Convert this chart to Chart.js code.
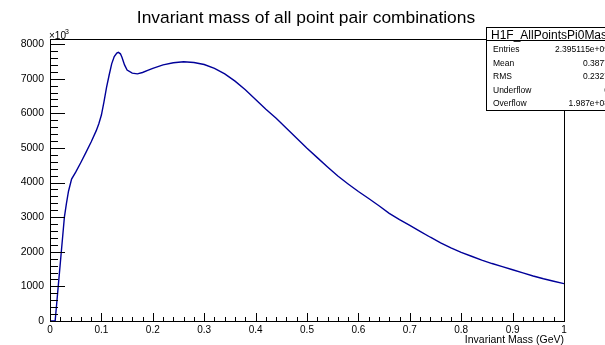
<!DOCTYPE html>
<html>
<head>
<meta charset="utf-8">
<script src="https://cdn.jsdelivr.net/npm/chart.js@4.4.1/dist/chart.umd.min.js"></script>
<style>
  html, body { margin: 0; padding: 0; background: #ffffff; }
</style>
</head>
<body>
<canvas id="c" width="605" height="345"></canvas>
<script>
// Histogram contents (bin centre in GeV, entries in units of 10^3)
const massGeV = [
  0.000, 0.005, 0.010, 0.013, 0.016, 0.019, 0.022, 0.025, 0.028, 0.032,
  0.036, 0.042, 0.050, 0.060, 0.070, 0.080, 0.090, 0.095, 0.100, 0.105,
  0.110, 0.115, 0.120, 0.125, 0.130, 0.133, 0.137, 0.140, 0.145, 0.150,
  0.160, 0.170, 0.180, 0.190, 0.200, 0.220, 0.240, 0.260, 0.280, 0.300,
  0.320, 0.340, 0.360, 0.380, 0.400, 0.420, 0.440, 0.460, 0.480, 0.500,
  0.520, 0.540, 0.560, 0.580, 0.600, 0.620, 0.640, 0.660, 0.680, 0.700,
  0.720, 0.740, 0.760, 0.780, 0.800, 0.820, 0.840, 0.860, 0.880, 0.900,
  0.920, 0.940, 0.960, 0.980, 1.000
];
const countsK = [
  0, 0, 0, 500, 1000, 1500, 2000, 2500, 3000, 3400,
  3750, 4100, 4300, 4580, 4870, 5170, 5500, 5700, 5950, 6330,
  6750, 7100, 7430, 7640, 7740, 7760, 7720, 7620, 7400, 7250,
  7160, 7140, 7180, 7240, 7300, 7400, 7460, 7490, 7470, 7410,
  7300, 7140, 6930, 6680, 6400, 6120, 5860, 5570, 5280, 4990,
  4720, 4450, 4190, 3960, 3740, 3540, 3330, 3110, 2930, 2760,
  2590, 2420, 2260, 2110, 1980, 1870, 1760, 1660, 1570, 1480,
  1390, 1300, 1220, 1150, 1080
];

const yMajorTicks = [0, 1000, 2000, 3000, 4000, 5000, 6000, 7000, 8000];
const xMajorTicks = [0, 0.1, 0.2, 0.3, 0.4, 0.5, 0.6, 0.7, 0.8, 0.9, 1];

const titleText = 'Invariant mass of all point pair combinations';
const xAxisTitle = 'Invariant Mass (GeV)';
const statsName = 'H1F_AllPointsPi0Mass';
const statsLabels = ['Entries', 'Mean', 'RMS', 'Underflow', 'Overflow'];
const statsValues = ['2.395115e+09', '0.3877', '0.2327', '0', '1.987e+08'];

const FONT = '"Liberation Sans", Arial, Helvetica, sans-serif';
const Y_MAX = 8133;

const points = massGeV.map((m, i) => ({ x: m, y: countsK[i] }));

// Frame, inward ticks, exponent label, title and statistics box
const rootStyle = {
  id: 'rootStyle',
  afterDraw(chart) {
    const { ctx, chartArea: a } = chart;
    const xs = chart.scales.x, ys = chart.scales.y;
    ctx.save();
    ctx.strokeStyle = '#000000';
    ctx.lineWidth = 1;
    // frame
    ctx.strokeRect(a.left + 0.5, a.top, a.right - a.left, a.bottom - a.top + 0.5);
    // y ticks: major every 1000, minor every 200
    ctx.beginPath();
    for (let k = 0; k <= 40; k++) {
      const py = Math.round(ys.getPixelForValue(k * 200)) + 0.5;
      const len = (k % 5 === 0) ? 15 : 8;
      ctx.moveTo(a.left, py);
      ctx.lineTo(a.left + len, py);
    }
    ctx.stroke();
    // x ticks: major every 0.1, minor every 0.02
    ctx.beginPath();
    for (let i = 0; i <= 50; i++) {
      const px = Math.round(xs.getPixelForValue(i / 50)) + 0.5;
      const len = (i % 5 === 0) ? 8 : 4;
      ctx.moveTo(px, a.bottom);
      ctx.lineTo(px, a.bottom - len);
    }
    ctx.stroke();

    ctx.fillStyle = '#000';
    // exponent label
    ctx.font = '10px ' + FONT;
    ctx.textAlign = 'left';
    ctx.textBaseline = 'alphabetic';
    ctx.fillText('\u00d710', a.left - 1, a.top - 1);
    ctx.font = '7px ' + FONT;
    ctx.fillText('3', a.left + 15, a.top - 6);
    // x axis title
    ctx.font = '10.5px ' + FONT;
    ctx.textAlign = 'right';
    ctx.fillText(xAxisTitle, a.right, 343);
    // main title
    ctx.font = '17.4px ' + FONT;
    ctx.textAlign = 'center';
    ctx.fillText(titleText, 306, 23);
    // statistics box
    const bx = 486.5, by = 27.5, bw = 130, bh = 83, hh = 13;
    ctx.fillStyle = '#fff';
    ctx.fillRect(bx, by, bw, bh);
    ctx.strokeRect(bx, by, bw, bh);
    ctx.beginPath();
    ctx.moveTo(bx, by + hh);
    ctx.lineTo(bx + bw, by + hh);
    ctx.stroke();
    ctx.fillStyle = '#000';
    ctx.font = '12px ' + FONT;
    ctx.textAlign = 'left';
    ctx.fillText(statsName, 491, by + 11);
    ctx.font = '8.5px ' + FONT;
    const rowY = [52, 65.5, 79, 92.5, 106];
    statsLabels.forEach((lab, i) => {
      ctx.textAlign = 'left';
      ctx.fillText(lab, 493, rowY[i]);
      ctx.textAlign = 'right';
      ctx.fillText(statsValues[i], 609, rowY[i]);
    });
    ctx.restore();
  }
};

new Chart(document.getElementById('c'), {
  type: 'line',
  data: {
    datasets: [{
      data: points,
      borderColor: '#000099',
      borderWidth: 1.4,
      pointRadius: 0,
      tension: 0,
      fill: false
    }]
  },
  options: {
    responsive: false,
    animation: false,
    layout: { padding: { left: 0, right: 41, top: 39.5, bottom: 0 } },
    plugins: { legend: { display: false }, title: { display: false }, tooltip: { enabled: false } },
    scales: {
      x: {
        type: 'linear',
        min: 0, max: 1,
        afterFit(s) { s.height = 24; },
        afterBuildTicks(s) { s.ticks = xMajorTicks.map(v => ({ value: v })); },
        grid: { display: false },
        border: { display: false },
        ticks: {
          padding: -5,
          color: '#000',
          font: { family: FONT, size: 10 },
          maxRotation: 0,
          autoSkip: false,
          callback: v => String(Math.round(v * 10) / 10)
        }
      },
      y: {
        type: 'linear',
        min: 0, max: Y_MAX,
        afterFit(s) { s.width = 50; },
        afterBuildTicks(s) { s.ticks = yMajorTicks.map(v => ({ value: v })); },
        grid: { display: false },
        border: { display: false },
        ticks: {
          padding: -2,
          color: '#000',
          font: { family: FONT, size: 10.5 },
          autoSkip: false,
          callback: v => String(v)
        }
      }
    }
  },
  plugins: [rootStyle]
});
</script>
</body>
</html>
